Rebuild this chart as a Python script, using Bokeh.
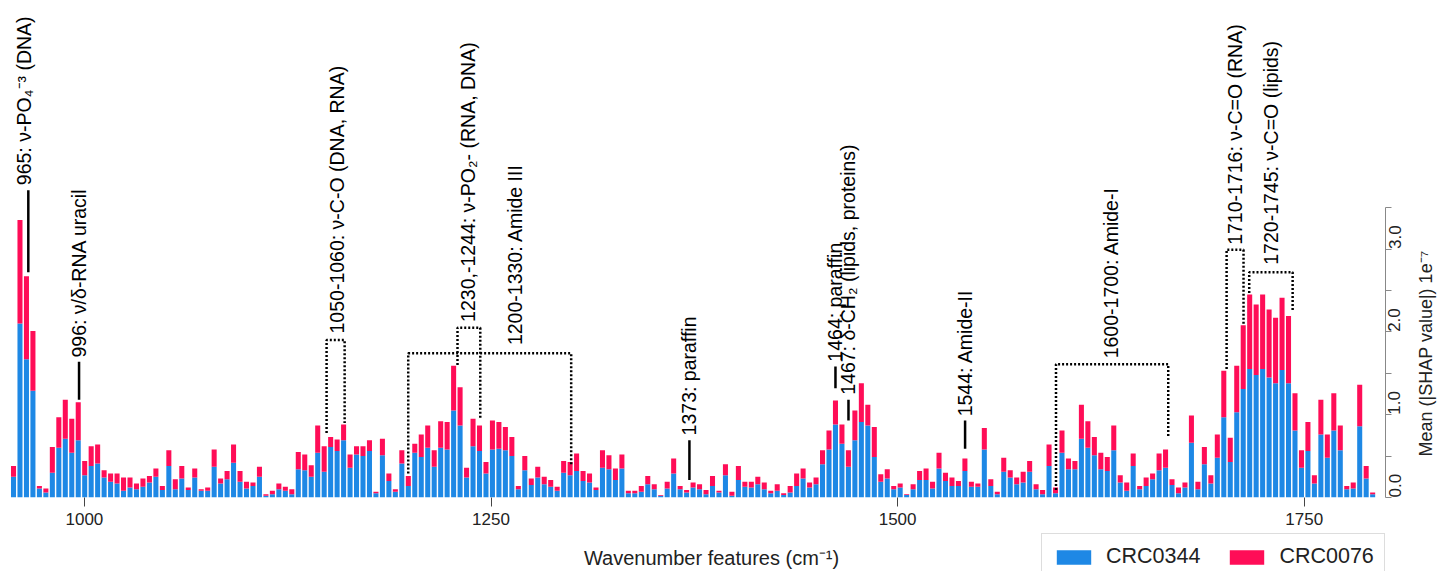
import numpy as np
from math import pi
from bokeh.plotting import figure
from bokeh.layouts import column, row
from bokeh.models import (ColumnDataSource, FixedTicker, NumeralTickFormatter,
                          Label, Legend, LegendItem, Range1d)
from bokeh.embed import file_html
from bokeh.resources import INLINE

# ---------------- data (mean |SHAP| in units of 1e-7) ----------------
wavenumber = np.round(np.linspace(956.4, 1792.1, 211), 2)

crc0344 = [
    0.25, 2.10, 1.67, 1.29, 0.11, 0.06, 0.30, 0.60, 0.71, 0.54,
    0.69, 0.27, 0.38, 0.41, 0.24, 0.19, 0.17, 0.08, 0.12, 0.10,
    0.13, 0.18, 0.25, 0.09, 0.38, 0.10, 0.23, 0.09, 0.24, 0.08,
    0.08, 0.37, 0.17, 0.22, 0.42, 0.19, 0.11, 0.14, 0.25, 0.02,
    0.04, 0.10, 0.08, 0.04, 0.34, 0.33, 0.25, 0.54, 0.31, 0.61,
    0.56, 0.69, 0.36, 0.52, 0.50, 0.56, 0.05, 0.51, 0.20, 0.07,
    0.41, 0.14, 0.54, 0.49, 0.60, 0.37, 0.60, 0.58, 1.05, 0.87,
    0.24, 0.62, 0.56, 0.29, 0.58, 0.59, 0.57, 0.50, 0.10, 0.33,
    0.15, 0.24, 0.16, 0.13, 0.08, 0.30, 0.27, 0.32, 0.20, 0.18,
    0.09, 0.36, 0.34, 0.21, 0.35, 0.05, 0.05, 0.07, 0.16, 0.10,
    0.02, 0.11, 0.29, 0.10, 0.06, 0.12, 0.10, 0.04, 0.14, 0.06,
    0.27, 0.02, 0.21, 0.13, 0.12, 0.16, 0.10, 0.05, 0.08, 0.03,
    0.06, 0.14, 0.23, 0.12, 0.16, 0.40, 0.58, 0.88, 0.65, 0.37,
    0.69, 0.91, 0.87, 0.49, 0.19, 0.23, 0.10, 0.12, 0.03, 0.10,
    0.21, 0.21, 0.11, 0.35, 0.20, 0.14, 0.14, 0.32, 0.13, 0.13,
    0.58, 0.14, 0.04, 0.31, 0.24, 0.16, 0.18, 0.31, 0.10, 0.04,
    0.38, 0.05, 0.54, 0.34, 0.34, 0.71, 0.60, 0.51, 0.34, 0.32,
    0.57, 0.18, 0.08, 0.38, 0.10, 0.14, 0.22, 0.33, 0.36, 0.15,
    0.05, 0.12, 0.66, 0.10, 0.40, 0.17, 0.48, 0.97, 0.43, 1.03,
    1.31, 1.55, 1.48, 1.55, 1.45, 1.38, 1.54, 1.38, 0.81, 0.36,
    0.56, 0.17, 0.76, 0.48, 0.81, 0.57, 0.10, 0.11, 0.86, 0.23,
    0.04,
]

crc0076 = [
    0.13, 1.25, 1.00, 0.72, 0.03, 0.05, 0.31, 0.37, 0.47, 0.41,
    0.46, 0.17, 0.24, 0.23, 0.09, 0.10, 0.12, 0.16, 0.12, 0.07,
    0.10, 0.08, 0.10, 0.05, 0.19, 0.12, 0.15, 0.03, 0.11, 0.02,
    0.04, 0.21, 0.06, 0.10, 0.22, 0.13, 0.08, 0.04, 0.12, 0.02,
    0.04, 0.07, 0.05, 0.06, 0.21, 0.19, 0.14, 0.33, 0.31, 0.12,
    0.14, 0.19, 0.16, 0.10, 0.12, 0.13, 0.02, 0.20, 0.09, 0.03,
    0.16, 0.12, 0.11, 0.27, 0.27, 0.20, 0.32, 0.33, 0.54, 0.46,
    0.12, 0.33, 0.31, 0.14, 0.35, 0.32, 0.28, 0.23, 0.04, 0.17,
    0.08, 0.13, 0.09, 0.08, 0.05, 0.14, 0.16, 0.21, 0.12, 0.11,
    0.03, 0.21, 0.17, 0.14, 0.17, 0.03, 0.03, 0.07, 0.10, 0.06,
    0.01, 0.08, 0.18, 0.04, 0.03, 0.06, 0.06, 0.05, 0.12, 0.02,
    0.13, 0.05, 0.17, 0.06, 0.07, 0.09, 0.08, 0.03, 0.08, 0.02,
    0.08, 0.15, 0.12, 0.06, 0.08, 0.17, 0.23, 0.29, 0.23, 0.20,
    0.36, 0.47, 0.25, 0.36, 0.09, 0.11, 0.04, 0.05, 0.01, 0.06,
    0.11, 0.14, 0.08, 0.19, 0.10, 0.10, 0.06, 0.15, 0.06, 0.04,
    0.26, 0.08, 0.03, 0.17, 0.09, 0.08, 0.13, 0.13, 0.06, 0.05,
    0.26, 0.07, 0.27, 0.13, 0.10, 0.41, 0.32, 0.22, 0.20, 0.17,
    0.30, 0.09, 0.10, 0.15, 0.04, 0.10, 0.07, 0.20, 0.22, 0.07,
    0.07, 0.06, 0.33, 0.09, 0.21, 0.10, 0.28, 0.56, 0.29, 0.56,
    0.77, 0.90, 0.85, 0.90, 0.82, 0.79, 0.87, 0.81, 0.45, 0.21,
    0.35, 0.10, 0.42, 0.28, 0.45, 0.30, 0.04, 0.07, 0.50, 0.15,
    0.02,
]

series_names = ["CRC0344", "CRC0076"]
series_colors = ["#1E88E5", "#FF0D57"]

x_ticks = [1000, 1250, 1500, 1750]
y_ticks = [0, 1, 2, 3]
y_minor_ticks = [0.5, 1.5, 2.5, 3.5]

x_title = "Wavenumber features (cm⁻¹)"
y_title = "Mean (|SHAP value|) 1e⁻⁷"

# single-band annotations
point_labels = ["965: ν-PO₄⁻³ (DNA)", "996: ν/δ-RNA uracil", "1373: paraffin",
                "1464: paraffin", "1467: δ-CH₂ (lipids, proteins)", "1544: Amide-II"]
point_x = [965.5, 996.7, 1372.0, 1461.8, 1469.8, 1541.5]
point_lo = [2.72, 1.18, 0.21, 1.32, 0.93, 0.59]
point_hi = [3.71, 1.64, 0.69, 1.58, 1.18, 0.93]
point_text_x = [963.0, 996.5, 1372.0, 1461.8, 1469.8, 1541.5]
point_text_y = [3.77, 1.69, 0.75, 1.64, 1.24, 0.98]

# range annotations
range_labels = ["1050-1060: ν-C-O (DNA, RNA)", "1230,-1244: ν-PO₂- (RNA, DNA)",
                "1200-1330: Amide III", "1600-1700: Amide-I",
                "1710-1716: ν-C=O (RNA)", "1720-1745: ν-C=O (lipids)"]
range_x0 = [1148.9, 1229.4, 1199.1, 1597.4, 1702.3, 1716.2]
range_x1 = [1160.0, 1243.4, 1299.3, 1666.4, 1712.7, 1742.9]
range_left = [0.78, 1.60, 0.29, 0.09, 1.55, 2.47]
range_right = [0.90, 0.95, 0.39, 0.72, 2.08, 2.24]
range_top = [1.90, 2.05, 1.74, 1.61, 2.99, 2.72]
range_text_x = [1155.6, 1236.0, 1265.0, 1631.2, 1707.4, 1729.5]
range_text_y = [1.98, 2.12, 1.84, 1.68, 3.05, 2.81]

FONT = "Liberation Sans"
TXT = "#222222"
TOP_H = 533

# ---------------- main figure ----------------
p = figure(width=1415, height=TOP_H, output_backend="svg", toolbar_location=None,
           x_range=(948.4, 1800.0), y_range=(0, 6.0), y_axis_location="right",
           min_border_left=0, min_border_top=0, min_border_right=30,
           min_border_bottom=36)
p.outline_line_color = None
p.xgrid.visible = False
p.ygrid.visible = False

src = ColumnDataSource(dict(wn=wavenumber, CRC0344=crc0344, CRC0076=crc0076))
bars = p.vbar_stack(series_names, x="wn", width=3.1, color=series_colors,
                    line_color=None, source=src)

p.segment(x0=point_x, y0=point_lo, x1=point_x, y1=point_hi,
          line_color="black", line_width=2.5)
xs = [[a, a, b, b] for a, b in zip(range_x0, range_x1)]
ys = [[l, t, t, r] for l, t, r in zip(range_left, range_top, range_right)]
p.multi_line(xs=xs, ys=ys, line_color="black", line_width=2.5, line_dash="2 2")

for lab, tx, ty in list(zip(point_labels, point_text_x, point_text_y)) + \
        list(zip(range_labels, range_text_x, range_text_y)):
    p.add_layout(Label(x=tx, y=ty, text=lab, angle=pi / 2, text_align="left",
                       text_baseline="middle", text_font=FONT,
                       text_font_size="19.5px", text_color="black"))

xa = p.xaxis[0]
xa.ticker = FixedTicker(ticks=x_ticks)
xa.axis_line_color = None
xa.major_tick_out = 9
xa.major_tick_in = 0
xa.minor_tick_out = 0
xa.minor_tick_in = 0
xa.major_tick_line_color = "#444444"
xa.major_label_standoff = 6
xa.major_label_text_font = FONT
xa.major_label_text_font_size = "17px"
xa.major_label_text_color = TXT

ya = p.yaxis[0]
ya.ticker = FixedTicker(ticks=y_ticks, minor_ticks=y_minor_ticks)
ya.formatter = NumeralTickFormatter(format="0.0")
ya.bounds = (0, 3.5)
ya.axis_line_color = "#888888"
ya.major_tick_line_color = "#888888"
ya.minor_tick_line_color = "#888888"
ya.major_tick_out = 6
ya.major_tick_in = 0
ya.minor_tick_out = 6
ya.minor_tick_in = 0
ya.major_label_orientation = pi / 2
ya.major_label_standoff = 3
ya.major_label_text_font = FONT
ya.major_label_text_font_size = "17px"
ya.major_label_text_color = TXT

# ---------------- narrow strip right: y title ----------------
r = figure(width=30, height=TOP_H, output_backend="svg", toolbar_location=None,
           x_range=Range1d(0, 1), y_range=Range1d(0, 1),
           min_border_left=0, min_border_top=0, min_border_right=0,
           min_border_bottom=0, x_axis_location=None, y_axis_location=None)
r.outline_line_color = None
r.xgrid.visible = False
r.ygrid.visible = False
r.add_layout(Label(x=10, y=TOP_H - 389, x_units="screen", y_units="screen",
                   text=y_title, angle=pi / 2, text_align="center",
                   text_baseline="middle", text_font=FONT,
                   text_font_size="18px", text_color=TXT))

# ---------------- strip below: x title + legend ----------------
q = figure(width=1445, height=571 - TOP_H, output_backend="svg",
           toolbar_location=None, x_range=Range1d(0, 1), y_range=Range1d(0, 1),
           min_border_left=0, min_border_top=0, min_border_right=0,
           min_border_bottom=0, x_axis_location=None, y_axis_location=None)
q.outline_line_color = None
q.xgrid.visible = False
q.ygrid.visible = False
d0 = q.vbar(x=[0.5], top=[0], bottom=[0], width=0.01,
            color=series_colors[0], line_color=None)
d1 = q.vbar(x=[0.5], top=[0], bottom=[0], width=0.01,
            color=series_colors[1], line_color=None)

q.add_layout(Label(x=711, y=14, x_units="screen", y_units="screen",
                   text=x_title, text_align="center", text_baseline="middle",
                   text_font=FONT, text_font_size="20px", text_color=TXT))

legend = Legend(items=[LegendItem(label=series_names[0], renderers=[d0]),
                       LegendItem(label=series_names[1], renderers=[d1])],
                orientation="horizontal", location=(1041, -9), margin=0,
                label_text_font=FONT, label_text_font_size="21.5px",
                label_text_color=TXT, label_text_baseline="middle",
                glyph_width=43, glyph_height=18, spacing=25, padding=10,
                label_standoff=11, border_line_color="#bbbbbb",
                border_line_width=1.2, background_fill_alpha=1.0)
q.add_layout(legend)

layout = column(row(p, r, spacing=0), q, spacing=0)
open("out.html", "w").write(file_html(layout, INLINE))
